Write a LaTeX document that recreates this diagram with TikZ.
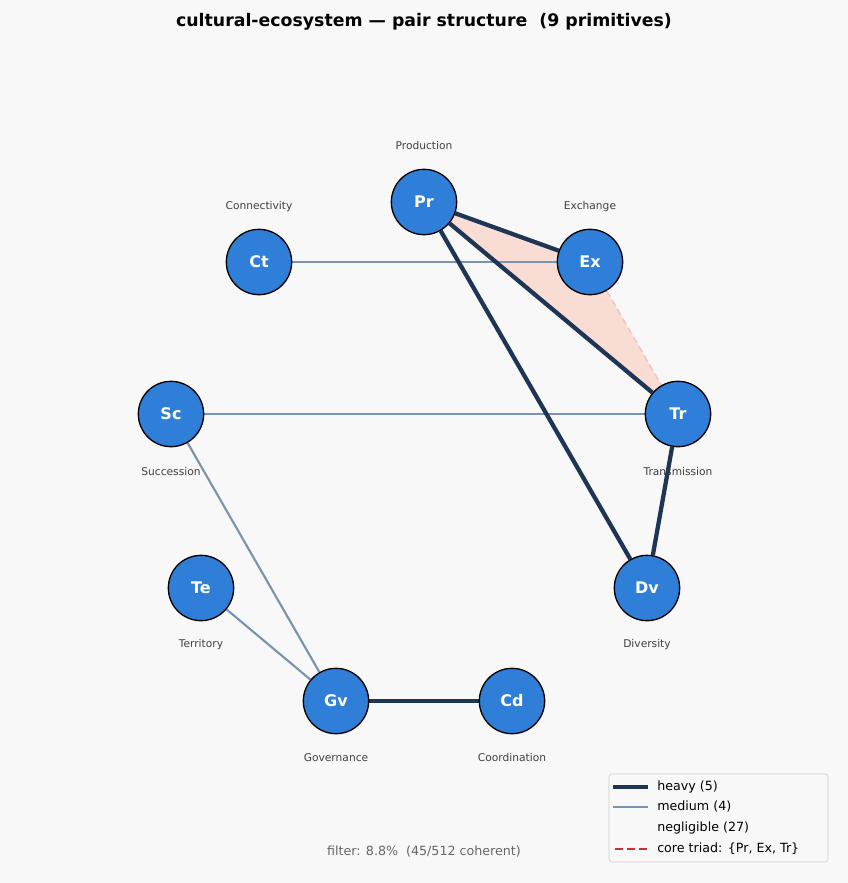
\documentclass[tikz,border=0pt]{standalone}
\usepackage{fontspec}
\setmainfont{DejaVu Sans}
\usetikzlibrary{backgrounds}
\definecolor{heavyc}{HTML}{1F3556}
\definecolor{mediumc}{HTML}{7A93AE}
\definecolor{nodec}{HTML}{2F7ED8}
\definecolor{triadc}{HTML}{F9DDD5}
\definecolor{bgc}{HTML}{F8F8F8}
\begin{document}
\begin{tikzpicture}
          [x=0.75pt,y=-0.75pt,
           prim/.style={draw=black,line width=1pt,shape=circle,fill=nodec,text=white,font=\bfseries\fontsize{12}{13}\selectfont,inner sep=0pt,minimum size=49pt},
           primlabel/.style={text=black!75,font=\fontsize{8}{9}\selectfont},
           heavy/.style={draw=heavyc,line width=3.2pt},
           medium/.style={draw=mediumc,line width=1.6pt}]

          \node[font=\bfseries\fontsize{13}{15}\selectfont] (title) at (424,22) {cultural-ecosystem --- pair structure \ (9 primitives)};

          \node[prim] (Pr) at (424,202) {Pr};
          \node[prim] (Ex) at (590,262) {Ex};
          \node[prim] (Ct) at (259,262) {Ct};
          \node[prim] (Sc) at (171,414) {Sc};
          \node[prim] (Tr) at (678,414) {Tr};
          \node[prim] (Te) at (201,588) {Te};
          \node[prim] (Dv) at (647,588) {Dv};
          \node[prim] (Gv) at (336,701) {Gv};
          \node[prim] (Cd) at (512,701) {Cd};

          \node[primlabel] (lPr) at (424,146) {Production};
          \node[primlabel] (lEx) at (590,207) {Exchange};
          \node[primlabel] (lCt) at (259,207) {Connectivity};
          \node[primlabel] (lSc) at (171,472) {Succession};
          \node[primlabel] (lTr) at (678,472) {Transmission};
          \node[primlabel] (lTe) at (201,645) {Territory};
          \node[primlabel] (lDv) at (647,645) {Diversity};
          \node[primlabel] (lGv) at (336,758) {Governance};
          \node[primlabel] (lCd) at (512,758) {Coordination};

          \begin{scope}[on background layer]
            \fill[bgc] (0,0) rectangle (848,883);
            \fill[triadc] (Pr.center) -- (Ex.center) -- (Tr.center) -- cycle;
            \draw[red!25,line width=1.2pt,dash pattern=on 5pt off 3pt] (Ex) -- (Tr);
            \draw[medium] (Ct) -- (Ex);
            \draw[medium] (Sc) -- (Tr);
            \draw[medium] (Sc) -- (Gv);
            \draw[medium] (Te) -- (Gv);
            \draw[heavy] (Pr) -- (Ex);
            \draw[heavy] (Pr) -- (Tr);
            \draw[heavy] (Pr) -- (Dv);
            \draw[heavy] (Tr) -- (Dv);
            \draw[heavy] (Gv) -- (Cd);
          \end{scope}

          \node[text=black!60,font=\fontsize{9.5}{11}\selectfont] (filter) at (424,852) {filter: 8.8\% \ (45/512 coherent)};

          % legend
          \draw[black!20,fill=bgc,rounded corners=2pt] (609,774) rectangle (828,862);
          \coordinate (k1) at (613,787);
          \coordinate (k2) at (648,787);
          \draw[heavyc,line width=3.2pt] (k1) -- (k2);
          \coordinate (k3) at (613,807);
          \coordinate (k4) at (648,807);
          \draw[mediumc,line width=1.6pt] (k3) -- (k4);
          \coordinate (k5) at (615,849);
          \coordinate (k6) at (648,849);
          \draw[red!70!black!80,line width=1.2pt,dash pattern=on 6pt off 3pt] (k5) -- (k6);
          \begin{scope}[every node/.style={anchor=west,inner sep=0pt,font=\fontsize{9.5}{11}\selectfont}]
            \node (t1) at (657,787) {heavy (5)};
            \node (t2) at (657,807) {medium (4)};
            \node (t3) at (657,828) {negligible (27)};
            \node (t4) at (657,849) {core triad: \{Pr, Ex, Tr\}};
          \end{scope}
\end{tikzpicture}
\end{document}
